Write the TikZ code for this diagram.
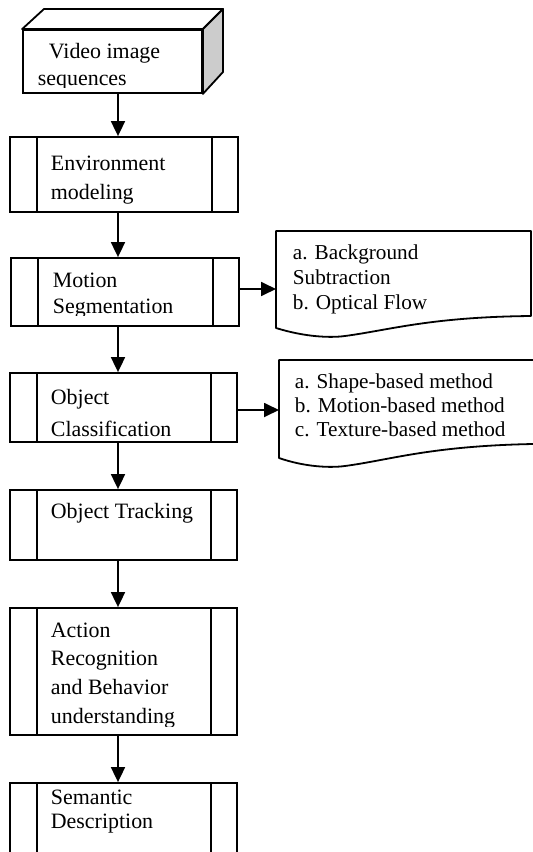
\documentclass[tikz,border=0pt]{standalone}
\usepackage{fontspec}
\setmainfont{Liberation Serif}
\usetikzlibrary{arrows.meta,calc}
\newcommand\pbox[5]{%
  \node[box, minimum width={(#4-#2)*1bp}, minimum height={(#5-#3)*1bp}] (#1) at ({(#2+#4)/2},{(#3+#5)/2}) {};
  \draw ([xshift=28bp]#1.north west) -- ([xshift=28bp]#1.south west);
  \draw ([xshift=-27bp]#1.north east) -- ([xshift=-27bp]#1.south east);}
\newcommand\tlines[1]{\parbox[t]{240bp}{\raggedright #1}}
\begin{document}
\begin{tikzpicture}[x=1bp,y=-1bp,
  line width=1.8bp,
  box/.style={draw, rectangle, inner sep=0pt},
  arr/.style={-{Triangle[length=15bp,width=14bp]}},
  txt/.style={anchor=base west, inner sep=0pt},
  bfont/.style={font=\fontsize{22}{#1}\selectfont},
  nfont/.style={font=\fontsize{21.3}{#1}\selectfont}]
\useasboundingbox (0,0) rectangle (533,852);
\clip (0,0) rectangle (533,852);

% video image sequences (3D box)
\node[box, minimum width=179bp, minimum height=63bp] (video) at (112.5,61.5) {};
\draw[line join=round] (video.north west) -- (44,9) -- (223,9) -- (video.north east) -- cycle;
\draw[fill=black!20, line join=round] (video.north east) -- (223,9) -- (223,72) -- (video.south east) -- cycle;
\begin{scope}
  \clip (23,30) rectangle (202,87.3);
  \node[txt, bfont=28] (vtext) at (37,58) {\tlines{\hspace*{11bp}Video image\\sequences}};
\end{scope}

% process boxes
\pbox{env}{10}{137}{238}{212}
\pbox{mot}{11}{258}{239}{326}
\pbox{cls}{10}{373}{237}{442}
\pbox{trk}{10}{490}{237}{560}
\pbox{act}{10}{608}{237}{735}
\pbox{sem}{10}{783}{237}{880}

\node[txt, bfont=30] (envtext) at (50,170) {\tlines{Environment\\modeling}};
\begin{scope}
  \clip (40,258) rectangle (211,315.5);
  \node[txt, bfont=27] (mottext) at (52,287) {\tlines{Motion\\Segmentation}};
\end{scope}
\node[txt, bfont=33] (clstext) at (50,404) {\tlines{Object\\Classification}};
\node[txt, bfont=30] (trktext) at (50,518) {\tlines{Object Tracking}};
\begin{scope}
  \clip (40,608) rectangle (209,726);
  \node[txt, bfont=29] (acttext) at (50,637) {\tlines{Action\\Recognition\\and Behavior\\understanding}};
\end{scope}
\node[txt, bfont=25] (semtext) at (50,804) {\tlines{Semantic\\Description}};

% notes
\draw[line join=round] (276,231) -- (531,231) -- (531,316)
  .. controls (430,317) and (390,330) .. (345,336)
  .. controls (330,338) and (305,337) .. (276,328) -- cycle;
\node[txt, nfont=25.5] (n1text) at (292,259) {\tlines{a. Background\\Subtraction\\b. Optical Flow}};
\coordinate (n1w) at (276,289);

\draw[line join=round] (279,360) -- (560,360) -- (560,444) -- (533,444)
  .. controls (430,446) and (390,460) .. (345,466)
  .. controls (330,468) and (305,467) .. (279,458) -- cycle;
\node[txt, nfont=24.5] (n2text) at (294,388) {\tlines{a. Shape-based method\\b. Motion-based method\\c. Texture-based method}};
\coordinate (n2w) at (279,410);

% connectors
\coordinate (ax) at (118,0);
\draw[arr] (video.south -| ax) -- (env.north -| ax);
\draw[arr] (env.south -| ax) -- (mot.north -| ax);
\draw[arr] (mot.south -| ax) -- (cls.north -| ax);
\draw[arr] (cls.south -| ax) -- (trk.north -| ax);
\draw[arr] (trk.south -| ax) -- (act.north -| ax);
\draw[arr] (act.south -| ax) -- (sem.north -| ax);
\draw[arr] (mot.east |- n1w) -- (n1w);
\draw[arr] (cls.east |- n2w) -- (n2w);
\end{tikzpicture}
\end{document}
